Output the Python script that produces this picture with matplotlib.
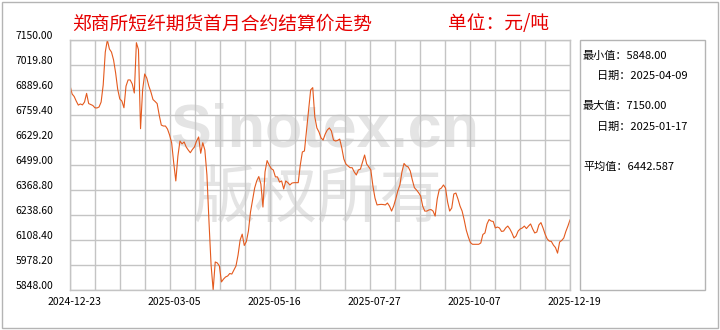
import matplotlib
matplotlib.use("Agg")
import matplotlib.pyplot as plt
import matplotlib.transforms as mtransforms
from matplotlib.patches import Rectangle
import numpy as np

plt.rcParams['font.family'] = ['Noto Sans CJK SC', 'DejaVu Sans']

# settlement price, one value per trading day (2024-12-23 .. 2025-12-19)
prices = [
    6914, 6869, 6856, 6832, 6811, 6817, 6812, 6827, 6872, 6819,
    6814, 6809, 6797, 6796, 6801, 6827, 6916, 7087, 7150, 7103,
    7087, 7046, 6978, 6893, 6843, 6832, 6797, 6910, 6942, 6942,
    6921, 6874, 7136, 7100, 6688, 6890, 6973, 6952, 6910, 6879,
    6840, 6830, 6819, 6759, 6707, 6702, 6702, 6686, 6655, 6614,
    6509, 6416, 6545, 6624, 6609, 6619, 6593, 6577, 6563, 6580,
    6593, 6624, 6645, 6560, 6615, 6577, 6447, 6202, 5978, 5848,
    5994, 5989, 5973, 5890, 5905, 5916, 5921, 5934, 5931, 5952,
    5973, 6030, 6108, 6139, 6080, 6100, 6155, 6254, 6317, 6379,
    6416, 6439, 6400, 6280, 6463, 6522, 6499, 6480, 6473, 6437,
    6437, 6410, 6416, 6374, 6416, 6407, 6395, 6405, 6407, 6407,
    6407, 6499, 6567, 6572, 6681, 6785, 6890, 6902, 6749, 6692,
    6671, 6640, 6629, 6660, 6681, 6692, 6676, 6629, 6624, 6627,
    6634, 6588, 6530, 6504, 6494, 6485, 6485, 6463, 6447, 6473,
    6478, 6515, 6551, 6504, 6489, 6473, 6390, 6327, 6291, 6293,
    6294, 6293, 6291, 6301, 6285, 6259, 6285, 6322, 6364, 6395,
    6463, 6507, 6494, 6489, 6468, 6421, 6381, 6369, 6355, 6338,
    6285, 6259, 6259, 6265, 6267, 6259, 6233, 6322, 6372, 6379,
    6395, 6379, 6306, 6259, 6275, 6348, 6353, 6322, 6285, 6259,
    6213, 6160, 6124, 6095, 6086, 6086, 6086, 6086, 6093, 6137,
    6145, 6192, 6215, 6207, 6205, 6171, 6176, 6171, 6153, 6155,
    6171, 6181, 6166, 6145, 6119, 6129, 6155, 6166, 6171, 6181,
    6168, 6181, 6192, 6166, 6145, 6150, 6187, 6199, 6171, 6139,
    6114, 6103, 6101, 6082, 6069, 6040, 6098, 6106, 6119, 6153,
    6181, 6213,
]
date_labels = ['2024-12-23', '2025-03-05', '2025-05-16', '2025-07-27', '2025-10-07', '2025-12-19']
y_min, y_max = 5848.00, 7150.00
stats = [
    ('最小值：5848.00', 583, 56),
    ('日期：2025-04-09', 597, 76),
    ('最大值：7150.00', 583, 106),
    ('日期：2025-01-17', 597, 127),
    ('平均值：6442.587', 583, 167),
]

W, H = 720, 330
fig = plt.figure(figsize=(W / 100, H / 100), dpi=100)
ax = fig.add_axes([70 / W, 1 - 290 / H, 500 / W, 250 / H])
ax.set_facecolor('none')

x = np.arange(len(prices))
ax.plot(x, prices, color='#e45a1e', lw=0.8, zorder=2)

n = len(prices) - 1
ax.set_xlim(0, n)
ax.set_ylim(y_min, y_max)
ax.set_xticks(np.linspace(0, n, 6))
ax.set_xticklabels(date_labels)
ax.set_xticks(np.linspace(0, n, 21), minor=True)
yt = np.linspace(y_min, y_max, 11)
ax.set_yticks(yt)
ax.set_yticklabels([f'{v:.2f}' for v in yt])

ax.set_axisbelow(True)
ax.grid(True, which='both', color='#c4c4c4', lw=1.0)
for s in ax.spines.values():
    s.set_color('#c4c4c4')
    s.set_linewidth(1.0)
ax.tick_params(which='both', length=0)
ax.tick_params(axis='y', pad=12, labelsize=7.5)
ax.tick_params(axis='x', pad=5, labelsize=7.5)

up = mtransforms.ScaledTranslation(0, 3.5 / 72, fig.dpi_scale_trans)
for lab in ax.get_yticklabels():
    lab.set_transform(lab.get_transform() + up)
right = mtransforms.ScaledTranslation(3 / 72, 0, fig.dpi_scale_trans)
for lab in ax.get_xticklabels():
    lab.set_transform(lab.get_transform() + right)

# watermark
ax.text(325 / W, 1 - 131 / H, 'Sinotex.cn', transform=fig.transFigure,
        fontsize=44, family='Liberation Sans', weight='bold', color='#e4e4e4',
        ha='center', va='center', zorder=0.1)
ax.text(317 / W, 1 - 200 / H, '版权所有', transform=fig.transFigure,
        fontsize=45, color='#e4e4e4', ha='center', va='center', zorder=0.1)

# titles
fig.text(72 / W, 1 - 24 / H, '郑商所短纤期货首月合约结算价走势', fontsize=13.5,
         color='#e60000', ha='left', va='center')
fig.text(448 / W, 1 - 24 / H, '单位：元/吨', fontsize=13.5,
         color='#e60000', ha='left', va='center')

# info box
fig.patches.append(Rectangle((580 / W, 1 - 290 / H), 125 / W, 250 / H,
                             transform=fig.transFigure, fill=False,
                             ec='#b4b4b4', lw=1.0))
for txt, px, py in stats:
    fig.text(px / W, 1 - py / H, txt, fontsize=8, color='black',
             ha='left', va='center')

# outer frame
fig.patches.append(Rectangle((2 / W, 2 / H), (W - 4) / W, (H - 4) / H,
                             transform=fig.transFigure, fill=False,
                             ec='#b4b4b4', lw=1.0))

fig.savefig('out.png', dpi=100)
